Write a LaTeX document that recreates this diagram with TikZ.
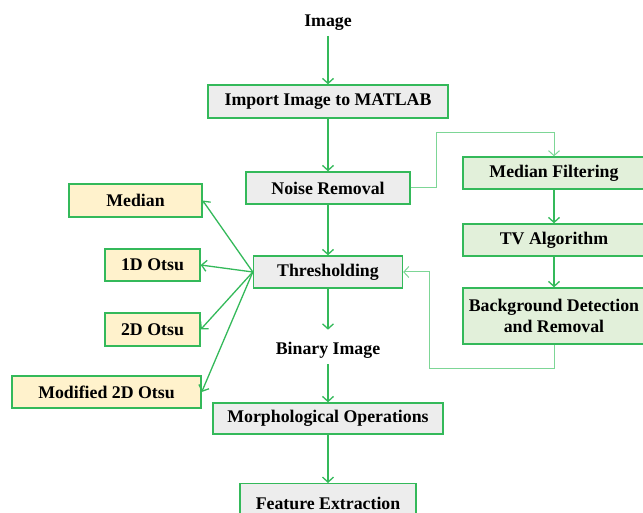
\documentclass[tikz,border=0pt]{standalone}
\usepackage{fontspec}
\setmainfont{Liberation Serif}
\usetikzlibrary{arrows.meta}
\definecolor{edgegreen}{RGB}{52,185,90}
\definecolor{lightedge}{RGB}{125,214,150}
\definecolor{greyfill}{RGB}{237,237,237}
\definecolor{greenfill}{RGB}{226,240,218}
\definecolor{yellowfill}{RGB}{255,242,204}
\tikzset{
  box/.style={draw=edgegreen, line width=1.4pt, inner sep=0pt, align=center,
    font=\fontsize{17.8}{20.5}\selectfont\bfseries},
  greybox/.style={box, fill=greyfill},
  greenbox/.style={box, fill=greenfill},
  yellowbox/.style={box, fill=yellowfill},
  plain/.style={inner sep=0pt, font=\fontsize{17.8}{20.5}\selectfont\bfseries},
  flow/.style={draw=edgegreen, line width=1.3pt, -{Straight Barb[length=5pt,width=11pt,line width=1.3pt]}},
  loop/.style={draw=lightedge, line width=1pt, -{Straight Barb[length=5pt,width=11pt,line width=1pt]}},
}
\begin{document}
\begin{tikzpicture}[x=1pt,y=-1pt]
\useasboundingbox (0,0) rectangle (643,513);
\clip (0,0) rectangle (643,513);

% main column
\node[plain] (img) at (328,23) {Image};
\node[greybox, minimum width=240pt, minimum height=33pt] (imp) at (328,101.5) {Import Image to MATLAB};
\node[greybox, minimum width=164pt, minimum height=32pt] (noise) at (328,188) {Noise Removal};
\node[greybox, minimum width=149pt, minimum height=32pt] (thr) at (328,272) {Thresholding};
\node[plain] (bin) at (328,350) {Binary Image};
\node[greybox, minimum width=230pt, minimum height=31pt] (morph) at (328,418.5) {Morphological Operations};
\node[greybox, minimum width=176pt, minimum height=40pt, anchor=north] (feat) at (328,483) {};
\node[plain] at (328,503) {Feature Extraction};

% noise removal branch
\node[greenbox, minimum width=182pt, minimum height=32pt] (medf) at (554,173) {Median Filtering};
\node[greenbox, minimum width=182pt, minimum height=32pt] (tv) at (554,240) {TV Algorithm};
\node[greenbox, minimum width=182pt, minimum height=56pt] (bg) at (554,316) {Background Detection\\and Removal};

% thresholding methods
\node[yellowbox, minimum width=133pt, minimum height=33pt] (med) at (135.5,200.5) {Median};
\node[yellowbox, minimum width=95pt, minimum height=32pt] (otsu1) at (152.5,265) {1D Otsu};
\node[yellowbox, minimum width=95pt, minimum height=33pt] (otsu2) at (152.5,329.5) {2D Otsu};
\node[yellowbox, minimum width=189pt, minimum height=32pt] (otsum) at (106.5,392) {Modified 2D Otsu};

% connectors of the main column
\draw[flow] (img.south) ++(0,5) -- (imp.north);
\draw[flow] (imp) -- (noise);
\draw[flow] (noise) -- (thr);
\draw[flow] (thr.south) -- ++(0,41);
\draw[flow] (bin.south) ++(0,6) -- (morph.north);
\draw[flow] (morph) -- (feat);

% branch loop
\draw[loop] (noise.east) -| (436,133) -| (medf.north);
\draw[flow] (medf) -- (tv);
\draw[flow] (tv) -- (bg);
\draw[loop] (bg.south) |- (429,368) |- (thr.east);

% fan-out to threshold methods
\coordinate (fan) at (thr.west);
\draw[flow] (fan) -- (med.east);
\draw[flow] (fan) -- (otsu1.east);
\draw[flow] (fan) -- (otsu2.east);
\draw[flow] (fan) -- (otsum.east);
\end{tikzpicture}
\end{document}
